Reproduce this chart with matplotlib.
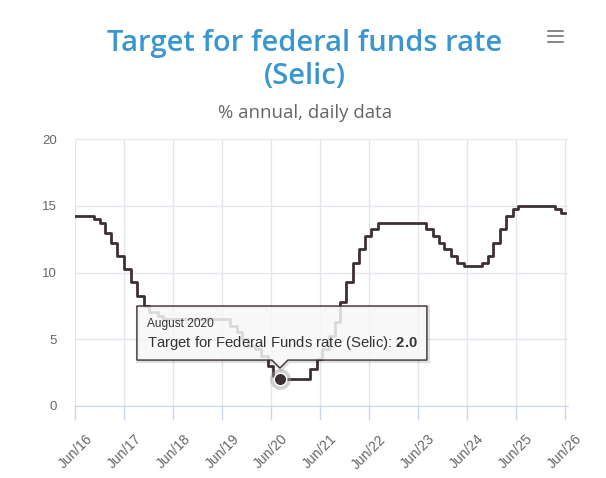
import matplotlib
matplotlib.use("Agg")
import matplotlib.pyplot as plt
import matplotlib.transforms as mtransforms
from matplotlib.patches import Polygon
import pandas as pd

# Selic target changes (date of change, % annual)
change_dates = ["2016-06-01", "2016-10-20", "2016-12-01", "2017-01-12", "2017-02-23",
                "2017-04-13", "2017-06-01", "2017-07-27", "2017-09-07", "2017-10-26",
                "2017-12-07", "2018-02-08", "2018-03-22", "2019-08-01", "2019-09-19",
                "2019-10-31", "2019-12-12", "2020-02-06", "2020-03-19", "2020-05-07",
                "2020-06-18", "2020-08-06", "2021-03-18", "2021-05-06", "2021-06-17",
                "2021-08-05", "2021-09-23", "2021-10-28", "2021-12-09", "2022-02-03",
                "2022-03-17", "2022-05-05", "2022-06-16", "2022-08-04", "2023-08-03",
                "2023-09-21", "2023-11-02", "2023-12-14", "2024-02-01", "2024-03-21",
                "2024-05-09", "2024-09-19", "2024-11-07", "2024-12-12", "2025-01-30",
                "2025-03-20", "2025-05-08", "2025-06-19", "2026-03-19", "2026-04-30",
                "2026-06-01"]
rates = [14.25, 14.00, 13.75, 13.00, 12.25,
         11.25, 10.25, 9.25, 8.25, 7.50,
         7.00, 6.75, 6.50, 6.00, 5.50,
         5.00, 4.50, 4.25, 3.75, 3.00,
         2.25, 2.00, 2.75, 3.50, 4.25,
         5.25, 6.25, 7.75, 9.25, 10.75,
         11.75, 12.75, 13.25, 13.75, 13.25,
         12.75, 12.25, 11.75, 11.25, 10.75,
         10.50, 10.75, 11.25, 12.25, 13.25,
         14.25, 14.75, 15.00, 14.75, 14.50,
         14.50]

tick_dates = ["2016-06-01", "2017-06-01", "2018-06-01", "2019-06-01", "2020-06-01",
              "2021-06-01", "2022-06-01", "2023-06-01", "2024-06-01", "2025-06-01",
              "2026-06-01"]
tick_labels = ["Jun/16", "Jun/17", "Jun/18", "Jun/19", "Jun/20", "Jun/21",
               "Jun/22", "Jun/23", "Jun/24", "Jun/25", "Jun/26"]
y_ticks = [0, 5, 10, 15, 20]

hover_date = "2020-08-06"
hover_value = 2.0
hover_title = "August 2020"

plt.rcParams['font.family'] = ['Liberation Sans', 'DejaVu Sans']
plt.rcParams['mathtext.fontset'] = 'custom'
plt.rcParams['mathtext.bf'] = 'Liberation Sans:bold'
plt.rcParams['mathtext.rm'] = 'Liberation Sans'

line_col = '#3d3034'
grid_col = '#e3e6ec'

fig = plt.figure(figsize=(6.06, 4.78), dpi=100)
ax = fig.add_axes([75 / 606, 1 - 405.7 / 478, 493 / 606, 266.4 / 478])

x = pd.to_datetime(change_dates)
ax.step(x, rates, where='post', color=line_col, lw=2.0, zorder=3)

ax.set_ylim(0, 20)
ax.set_xlim(pd.Timestamp("2016-06-01"), pd.Timestamp("2026-06-23"))
ax.set_yticks(y_ticks)
ax.set_xticks(pd.to_datetime(tick_dates))
ax.set_xticklabels(tick_labels, rotation=45, ha='right', va='top',
                   rotation_mode='anchor', fontsize=10, color='#666666')
ax.tick_params(axis='x', length=10, color='#ccd6eb', width=1, pad=9)
ax.tick_params(axis='y', length=0, pad=13, labelsize=9.5, labelcolor='#666666')
ax.grid(True, color=grid_col, lw=1, zorder=0)
for side in ['top', 'right', 'left']:
    ax.spines[side].set_visible(False)
ax.spines['bottom'].set_color('#ccd6eb')
for lbl in ax.get_xticklabels():
    lbl.set_transform(lbl.get_transform() + mtransforms.ScaledTranslation(0.1, 0, fig.dpi_scale_trans))

# hovered point
hx = pd.Timestamp(hover_date)
ax.plot([hx], [hover_value], 'o', ms=15, color='#9a9a9a', alpha=0.45, zorder=6, mec='none')
ax.plot([hx], [hover_value], 'o', ms=9, color=line_col, mec='white', mew=1, zorder=7)

# tooltip, in pixel offsets from the hovered point
anchor = mtransforms.ScaledTranslation(ax.convert_xunits(hx), hover_value, ax.transData)
px = mtransforms.Affine2D().scale(1 / 100.0) + fig.dpi_scale_trans + anchor
box = [(-143, 19), (-143, 73), (147, 73), (147, 19), (8, 19), (0, 11), (-8, 19)]
shadow = Polygon([(a + 1, b - 1) for a, b in box], closed=True, transform=px,
                 facecolor='none', edgecolor='black', alpha=0.12, lw=3, zorder=8,
                 clip_on=False)
fig.add_artist(shadow)
tip = Polygon(box, closed=True, transform=px, facecolor=(0.97, 0.97, 0.97, 0.85),
              edgecolor=line_col, lw=1, zorder=9, clip_on=False)
fig.add_artist(tip)
fig.text(-133, 55, hover_title, transform=px, fontsize=8.6, color='#333333',
         va='center', ha='left', zorder=10)
fig.text(-133, 36, r"Target for Federal Funds rate (Selic): $\mathbf{2.0}$", transform=px,
         fontsize=10.7, color='#333333', va='center', ha='left', zorder=10)

# titles
fig.text(0.503, 1 - 43 / 478, "Target for federal funds rate", ha='center', va='center',
         fontsize=21, color='#3a96d0', family='Open Sans', weight='semibold')
fig.text(0.503, 1 - 77 / 478, "(Selic)", ha='center', va='center',
         fontsize=21, color='#3a96d0', family='Open Sans', weight='semibold')
fig.text(0.503, 1 - 113 / 478, "% annual, daily data", ha='center', va='center',
         fontsize=13.4, color='#666666', family='Open Sans')

# menu icon
for yy in [30.7, 36, 41.7]:
    fig.add_artist(plt.Line2D([548 / 606, 563 / 606], [1 - yy / 478] * 2,
                              color='#666666', lw=1.1))

fig.savefig("out.png", dpi=100)
